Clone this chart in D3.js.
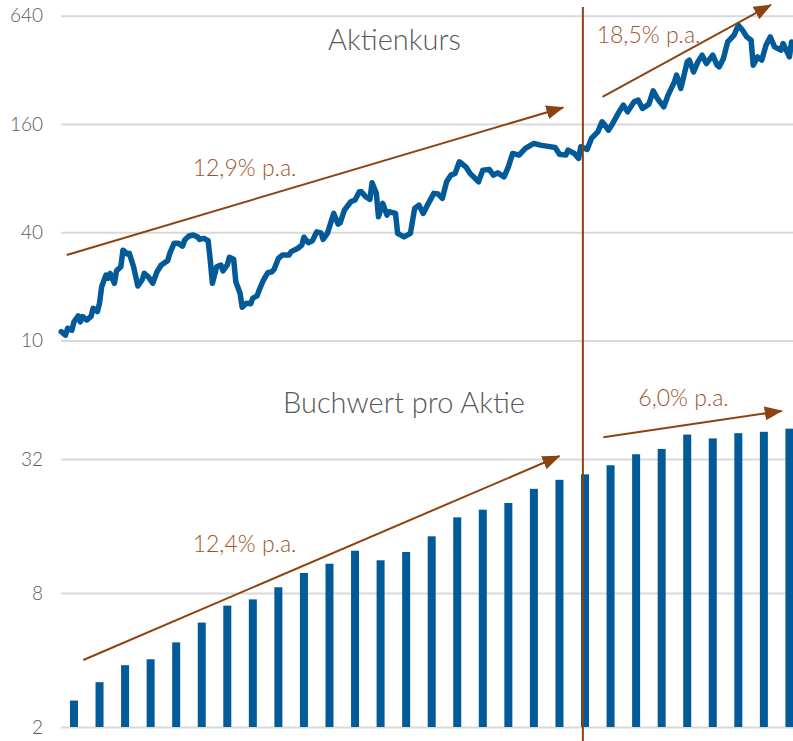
<!DOCTYPE html>
<html>
<head>
<meta charset="utf-8">
<script src="https://cdn.jsdelivr.net/npm/d3@7"></script>
<style>
  body { margin: 0; background: #fff; }
  svg { display: block; font-family: Lato, "Open Sans", sans-serif; }
</style>
</head>
<body>
<svg id="chart" width="793" height="741"></svg>
<script>
// Aktienkurs: Monat seit Beginn (0 = erster Monat) und Kurs
const kursMonat = [
  0, 2, 3, 5, 6, 8, 9, 10, 12, 14, 15, 17, 18, 19, 21, 22, 23, 25, 26, 28,
  29, 31, 32, 34, 36, 38, 39, 41, 43, 45, 47, 50, 51, 53, 55, 57, 58, 60, 62, 64,
  65, 67, 69, 70, 71, 73, 75, 76, 78, 79, 81, 82, 84, 85, 87, 89, 90, 92, 93, 95,
  97, 99, 100, 102, 104, 107, 108, 111, 113, 114, 116, 118, 120, 122, 123, 125, 128, 130, 131, 133,
  136, 138, 140, 141, 143, 145, 146, 148, 149, 151, 153, 154, 157, 158, 161, 164, 166, 168, 170, 172,
  175, 177, 179, 181, 183, 185, 187, 190, 192, 196, 198, 201, 203, 205, 208, 210, 212, 215, 218, 222,
  225, 228, 232, 234, 237, 238, 241, 243, 244, 247, 249, 252, 254, 255, 257, 259, 262, 264, 266, 269,
  271, 273, 276, 278, 280, 283, 285, 288, 289, 291, 294, 295, 297, 299, 301, 303, 306, 308, 309, 311,
  313, 316, 318, 320, 322, 324, 325, 327, 329, 331, 333, 335, 338, 339, 342, 343
];
const kursWert = [
  11.2, 10.7, 11.7, 11.4, 12.7, 13.7, 12.7, 13.6, 13.0, 13.6, 15.1, 14.5, 16.1, 19.9, 23.1, 22.2, 23.6, 20.8, 24.4, 25.7,
  31.8, 30.3, 30.5, 25.7, 20.1, 21.7, 23.6, 22.5, 20.8, 24.1, 26.3, 27.8, 30.5, 34.7, 34.7, 33.5, 36.2, 38.1, 38.6, 37.7,
  36.5, 37.0, 35.9, 28.0, 20.8, 25.7, 26.3, 24.4, 26.3, 29.0, 28.3, 21.2, 18.3, 15.3, 16.1, 16.0, 17.2, 17.7, 19.1, 21.7,
  23.8, 24.1, 24.9, 28.6, 29.9, 29.9, 31.2, 32.5, 33.9, 37.5, 35.0, 35.9, 40.2, 39.7, 36.5, 39.4, 50.9, 44.4, 45.1, 53.1,
  59.1, 60.4, 67.1, 67.1, 63.0, 60.9, 75.3, 65.8, 48.8, 57.9, 49.8, 52.0, 50.9, 39.4, 37.7, 39.4, 54.3, 56.6, 50.9, 56.6,
  65.8, 65.2, 61.7, 76.3, 83.1, 85.0, 98.6, 92.4, 85.0, 76.3, 88.6, 89.4, 83.1, 85.6, 81.3, 92.4, 109.7, 107.4, 117.0, 124.7,
  122.0, 120.5, 118.5, 108.7, 107.4, 114.5, 109.7, 102.9, 119.4, 115.5, 133.0, 144.7, 164.4, 159.6, 147.8, 161.1, 186.9, 203.5, 186.9, 212.3,
  217.0, 195.2, 206.2, 244.4, 221.8, 199.2, 231.4, 274.3, 298.8, 252.1, 354.3, 362.1, 311.7, 354.3, 386.0, 347.0, 386.0, 339.7, 332.3, 370.1,
  457.6, 498.7, 566.5, 531.5, 487.8, 467.6, 339.7, 377.7, 362.1, 438.7, 487.8, 429.3, 411.6, 448.2, 377.7, 457.6
];

// Buchwert pro Aktie je Jahr
const jahre = [1995, 1996, 1997, 1998, 1999, 2000, 2001, 2002, 2003, 2004, 2005, 2006, 2007, 2008, 2009,
               2010, 2011, 2012, 2013, 2014, 2015, 2016, 2017, 2018, 2019, 2020, 2021, 2022, 2023];
const buchwert = [2.63, 3.18, 3.79, 4.03, 4.80, 5.89, 7.02, 7.49, 8.49, 9.84, 10.83, 12.39, 11.22, 12.23, 14.38,
                  17.5, 18.94, 20.3, 23.5, 25.8, 27.3, 30.0, 33.6, 35.5, 41.2, 39.6, 41.8, 42.4, 43.8];

const kursTicks = [10, 40, 160, 640];
const buchTicks = [2, 8, 32];

// Trendpfeile: [monat, wert] Start und Ende
const kursTrends = [
  {von: [2.6, 29.9], bis: [235.8, 197.7]},
  {von: [254.2, 226.4], bis: [333.3, 734.9]}
];
const buchTrends = [
  {von: [10.4, 4.0], bis: [234.0, 33.0]},
  {von: [254.6, 40.1], bis: [338.4, 52.6]}
];
const trendTexte = ["12,9% p.a.", "18,5% p.a.", "12,4% p.a.", "6,0% p.a."];
const bruchMonat = 245;

const blau = "#035a98", braun = "#8c4312", braunText = "#a0562a", grau = "#595959";

let chart = d3.select("#chart");
let chart_width = 793;

let x = d3.scaleLinear().domain([0, 348]).range([61.2, 802.2]);
let xBand = d3.scaleBand().domain(jahre).range([61.2, 802.2])
    .paddingInner(0.687).paddingOuter(0.3435);
let yKurs = d3.scaleLog().base(2).domain([10, 640]).range([340.5, 15.7]);
let yBuch = d3.scaleLog().base(2).domain([2, 32]).range([727, 459]);

// arrow head
chart.append("defs").append("marker")
    .attr("id", "pfeil")
    .attr("markerUnits", "userSpaceOnUse")
    .attr("markerWidth", 18).attr("markerHeight", 14)
    .attr("refX", 17).attr("refY", 7)
    .attr("orient", "auto")
  .append("path")
    .attr("d", "M0,0 L18,7 L0,14 Z")
    .attr("fill", braun);

function gitter(scale, ticks) {
  let g = chart.append("g")
      .attr("transform", "translate(61,0)")
      .call(d3.axisLeft(scale).tickValues(ticks).tickFormat(d3.format("d"))
        .tickSize(-(chart_width - 61)).tickPadding(18));
  g.select(".domain").remove();
  g.selectAll(".tick line").attr("stroke", "#d9d9d9").attr("stroke-width", 2);
  g.selectAll(".tick text")
      .attr("fill", grau)
      .attr("font-size", 19)
      .attr("font-weight", 300)
      .attr("font-family", "Lato, sans-serif");
}
gitter(yKurs, kursTicks);
gitter(yBuch, buchTicks);

// bars
chart.selectAll("rect.bar")
    .data(buchwert).enter()
    .append("rect")
      .attr("class", "bar")
      .attr("x", (d, i) => xBand(jahre[i]))
      .attr("width", xBand.bandwidth())
      .attr("y", d => yBuch(d))
      .attr("height", d => yBuch(2) - yBuch(d))
      .attr("fill", blau);

// price line
let linie = d3.line()
    .x(d => x(d[0]))
    .y(d => yKurs(d[1]));
chart.append("path")
    .datum(kursMonat.map((m, i) => [m, kursWert[i]]))
    .attr("d", linie)
    .attr("fill", "none")
    .attr("stroke", blau)
    .attr("stroke-width", 5.5)
    .attr("stroke-linejoin", "round")
    .attr("stroke-linecap", "round");

// vertical break
chart.append("line")
    .attr("x1", x(bruchMonat)).attr("x2", x(bruchMonat))
    .attr("y1", 7).attr("y2", 741)
    .attr("stroke", braun)
    .attr("stroke-width", 2);

function trends(list, scale) {
  list.forEach(t => {
    chart.append("line")
        .attr("x1", x(t.von[0])).attr("y1", scale(t.von[1]))
        .attr("x2", x(t.bis[0])).attr("y2", scale(t.bis[1]))
        .attr("stroke", braun)
        .attr("stroke-width", 2)
        .attr("marker-end", "url(#pfeil)");
  });
}
trends(kursTrends, yKurs);
trends(buchTrends, yBuch);

// labels
let labelPos = [[192.7, 176], [596.7, 42.7], [192.7, 551.7], [638.3, 406]];
chart.selectAll("text.rate")
    .data(trendTexte).enter()
    .append("text")
      .attr("class", "rate")
      .text(d => d)
      .attr("x", (d, i) => labelPos[i][0])
      .attr("y", (d, i) => labelPos[i][1])
      .attr("font-size", 23)
      .attr("font-weight", 300)
      .attr("fill", braunText);

chart.append("text")
    .text("Aktienkurs")
    .attr("x", 394.5).attr("y", 50)
    .attr("text-anchor", "middle")
    .attr("font-size", 29)
    .attr("font-weight", 300)
    .attr("fill", grau);

chart.append("text")
    .text("Buchwert pro Aktie")
    .attr("x", 404).attr("y", 412.7)
    .attr("text-anchor", "middle")
    .attr("font-size", 29)
    .attr("font-weight", 300)
    .attr("fill", grau);
</script>
</body>
</html>
